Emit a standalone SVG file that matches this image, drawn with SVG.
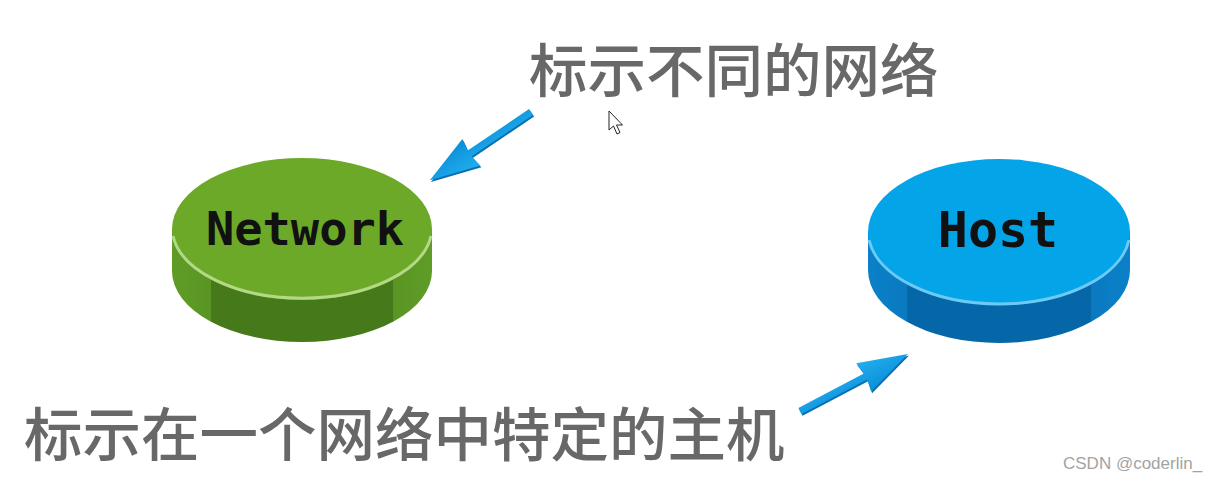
<svg xmlns="http://www.w3.org/2000/svg" width="1229" height="482" viewBox="0 0 1229 482">
  <style>
    .cjk { font-family: "Noto Sans CJK SC", "Noto Sans", sans-serif; font-weight: 500; font-size: 58.5px; fill: #686868; }
    .lbl { font-family: "DejaVu Sans Mono", "Liberation Mono", monospace; font-weight: 700; fill: #111111; text-anchor: middle; }
    .wm { font-family: "Liberation Sans", Arial, sans-serif; font-size: 17px; fill: #a3a3a3; }
    .arrow { fill: url(#arrowGrad); }
    .arrowShade { fill: #0a6fb0; }
  </style>
  <defs>
    <linearGradient id="greenSide" x1="0" y1="0" x2="1" y2="0">
      <stop offset="0" stop-color="#5f9c27"/>
      <stop offset="0.15" stop-color="#5a9523"/>
      <stop offset="0.151" stop-color="#46791a"/>
      <stop offset="0.85" stop-color="#46791a"/>
      <stop offset="0.851" stop-color="#5a9523"/>
      <stop offset="1" stop-color="#5f9c27"/>
    </linearGradient>
    <linearGradient id="blueSide" x1="0" y1="0" x2="1" y2="0">
      <stop offset="0" stop-color="#0b80c8"/>
      <stop offset="0.15" stop-color="#0a7ac0"/>
      <stop offset="0.151" stop-color="#0566a8"/>
      <stop offset="0.85" stop-color="#0566a8"/>
      <stop offset="0.851" stop-color="#0a7ac0"/>
      <stop offset="1" stop-color="#0b80c8"/>
    </linearGradient>
    <linearGradient id="arrowGrad" x1="0" y1="0" x2="0" y2="1">
      <stop offset="0" stop-color="#22aef0"/>
      <stop offset="1" stop-color="#0b8fd8"/>
    </linearGradient>
    <g id="arrowShape">
      <path d="M0,-3.5 L0,3.5 L74,3.5 L72,16 L122,0 L72,-16 L74,-3.5 Z"/>
    </g>
  </defs>

  <rect width="1229" height="482" fill="#ffffff"/>

  <g id="network">
    <path d="M172,229 L172,271 A130,71 0 0 0 432,271 L432,229 Z" fill="url(#greenSide)"/>
    <ellipse cx="302" cy="229" rx="130" ry="71" fill="#6da929"/>
    <path d="M173,236 A130,71 0 0 0 431,236" fill="none" stroke="#b3d886" stroke-width="3"/>
    <text class="lbl" x="305" y="245" font-size="47">Network</text>
  </g>

  <g id="host">
    <path d="M868,232 L868,270 A131,73 0 0 0 1130,270 L1130,232 Z" fill="url(#blueSide)"/>
    <ellipse cx="999" cy="232" rx="131" ry="73" fill="#04a4e9"/>
    <path d="M869,240 A131,73 0 0 0 1129,240" fill="none" stroke="#6ccaf4" stroke-width="3"/>
    <text class="lbl" x="998" y="247" font-size="50">Host</text>
  </g>

  <g id="label-top">
    <text class="cjk" x="529" y="92">标示不同的网络</text>
  </g>
  <g id="label-bottom">
    <text class="cjk" x="24" y="456">标示在一个网络中特定的主机</text>
  </g>

  <g id="connectors">
    <g transform="translate(531,112) rotate(146)">
      <use href="#arrowShape" class="arrowShade" transform="translate(0,-2)"/>
      <use href="#arrowShape" class="arrow"/>
    </g>
    <g transform="translate(800,411) rotate(-27.8)">
      <use href="#arrowShape" class="arrowShade" transform="translate(0,2)"/>
      <use href="#arrowShape" class="arrow"/>
    </g>
  </g>

  <g id="cursor">
    <path d="M609,111 L609,130 L613.5,126 L617,134 L620,132.5 L616.5,125 L622.5,125 Z" fill="#ffffff" stroke="#222222" stroke-width="1" stroke-linejoin="round"/>
  </g>

  <text class="wm" x="1063" y="469">CSDN @coderlin_</text>
</svg>
